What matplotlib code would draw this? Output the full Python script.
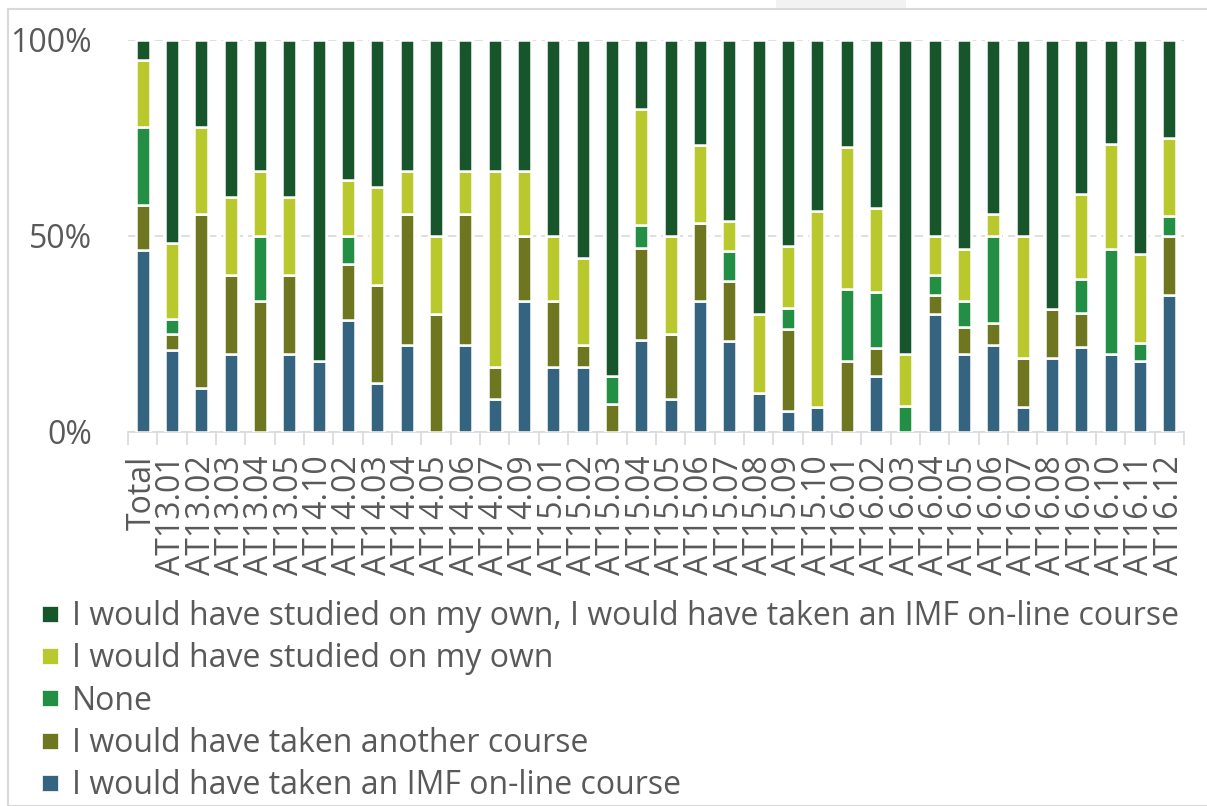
import matplotlib

matplotlib.use("Agg")
import matplotlib.pyplot as plt
import numpy as np
from matplotlib.lines import Line2D
from matplotlib.patches import Rectangle


CATEGORIES = [
    "Total", "AT13.01", "AT13.02", "AT13.03", "AT13.04", "AT13.05",
    "AT14.10", "AT14.02", "AT14.03", "AT14.04", "AT14.05", "AT14.06",
    "AT14.07", "AT14.09", "AT15.01", "AT15.02", "AT15.03", "AT15.04",
    "AT15.05", "AT15.06", "AT15.07", "AT15.08", "AT15.09", "AT15.10",
    "AT16.01", "AT16.02", "AT16.03", "AT16.04", "AT16.05", "AT16.06",
    "AT16.07", "AT16.08", "AT16.09", "AT16.10", "AT16.11", "AT16.12",
]

# shares in percent, bottom segment first
IMF_ONLINE = [
    46.5, 21.0, 11.1, 20.0, 0.0, 20.0, 18.2, 28.6, 12.5, 22.2, 0.0, 22.2,
    8.3, 33.3, 16.7, 16.7, 0.0, 23.5, 8.3, 33.3, 23.1, 10.0, 5.3, 6.3,
    0.0, 14.3, 0.0, 30.0, 20.0, 22.2, 6.3, 18.8, 21.7, 20.0, 18.2, 35.0,
]
ANOTHER_COURSE = [
    11.5, 3.9, 44.4, 20.0, 33.3, 20.0, 0.0, 14.3, 25.0, 33.3, 30.0, 33.3,
    8.3, 16.7, 16.7, 5.6, 7.1, 23.5, 16.7, 20.0, 15.4, 0.0, 21.1, 0.0,
    18.2, 7.1, 0.0, 5.0, 6.7, 5.6, 12.5, 12.5, 8.7, 0.0, 0.0, 15.0,
]
NONE = [
    19.7, 4.0, 0.0, 0.0, 16.7, 0.0, 0.0, 7.1, 0.0, 0.0, 0.0, 0.0,
    0.0, 0.0, 0.0, 0.0, 7.1, 5.9, 0.0, 0.0, 7.7, 0.0, 5.3, 0.0,
    18.2, 14.3, 6.7, 5.0, 6.7, 22.2, 0.0, 0.0, 8.7, 26.7, 4.5, 5.0,
]
OWN = [
    17.3, 19.2, 22.2, 20.0, 16.7, 20.0, 0.0, 14.3, 25.0, 11.1, 20.0, 11.1,
    50.0, 16.7, 16.7, 22.2, 0.0, 29.4, 25.0, 20.0, 7.7, 20.0, 15.8, 50.0,
    36.4, 21.4, 13.3, 10.0, 13.3, 5.6, 31.3, 0.0, 21.7, 26.7, 22.7, 20.0,
]
OWN_AND_IMF = [
    5.0, 51.9, 22.2, 40.0, 33.3, 40.0, 81.8, 35.7, 37.5, 33.3, 50.0, 33.3,
    33.3, 33.3, 50.0, 55.6, 85.7, 17.6, 50.0, 26.7, 46.2, 70.0, 52.6, 43.8,
    27.3, 42.9, 80.0, 50.0, 53.3, 44.4, 50.0, 68.8, 39.1, 26.7, 54.5, 25.0,
]

SERIES_NAMES = [
    "I would have taken an IMF on-line course",
    "I would have taken another course",
    "None",
    "I would have studied on my own",
    "I would have studied on my own, I would have taken an IMF on-line course",
]
SERIES_COLORS = ["#356480", "#6E771F", "#238F45", "#B9C82D", "#17552B"]

TEXT_COLOR = "#595959"
LINE_COLOR = "#D9D9D9"
FONT_SIZE = 23


def main():
    plt.rcParams["font.family"] = ["Open Sans", "DejaVu Sans"]

    fig = plt.figure(figsize=(12.07, 8.06), dpi=100)
    ax = fig.add_axes([128 / 1207, 1 - 432 / 806, 1056 / 1207, 392 / 806])

    series = [IMF_ONLINE, ANOTHER_COURSE, NONE, OWN, OWN_AND_IMF]
    x = np.arange(len(CATEGORIES))
    bottom = np.zeros(len(CATEGORIES))

    for values, color in zip(series, SERIES_COLORS):
        values = np.array(values)
        ax.bar(
            x, values, width=0.47, bottom=bottom, color=color,
            edgecolor="white", linewidth=1.8, zorder=3,
        )
        bottom += values

    ax.set_xlim(-0.5, len(CATEGORIES) - 0.5)
    ax.set_ylim(0, 100)

    ax.set_yticks([0, 50, 100])
    ax.set_yticklabels(["0%", "50%", "100%"])
    ax.tick_params(axis="y", length=0, pad=26, labelsize=FONT_SIZE, labelcolor=TEXT_COLOR)
    ax.yaxis.grid(True, color=LINE_COLOR, linestyle=(0, (5, 3)), linewidth=1.2, zorder=0)

    ax.set_xticks(x)
    ax.set_xticklabels(CATEGORIES, rotation=90)
    ax.tick_params(axis="x", length=0, pad=17, labelsize=FONT_SIZE, labelcolor=TEXT_COLOR)
    ax.set_xticks(np.arange(-0.5, len(CATEGORIES)), minor=True)
    ax.tick_params(axis="x", which="minor", length=9, width=1.2, color=LINE_COLOR)

    for side in ["left", "right", "top"]:
        ax.spines[side].set_visible(False)
    ax.spines["bottom"].set_color(LINE_COLOR)
    ax.spines["bottom"].set_linewidth(1.2)

    handles = [
        Line2D([], [], marker="s", linestyle="none", markersize=11.5,
               markerfacecolor=color, markeredgecolor="white", markeredgewidth=0.5)
        for color in SERIES_COLORS
    ]
    fig.legend(
        handles[::-1], SERIES_NAMES[::-1],
        loc="upper left", bbox_to_anchor=(37 / 1207, 1 - 600 / 806),
        frameon=False, fontsize=FONT_SIZE, labelcolor=TEXT_COLOR,
        handlelength=0.8, handletextpad=0.29, labelspacing=0.29,
        borderpad=0, borderaxespad=0,
    )

    # outer frame of the chart area and the tab at the top
    fig.patches.append(Rectangle(
        (8 / 1207, 0.5 / 806), 1.2, 1 - 9.5 / 806, transform=fig.transFigure,
        fill=False, edgecolor=LINE_COLOR, linewidth=1.5,
    ))
    fig.patches.append(Rectangle(
        (776 / 1207, 1 - 8 / 806), 130 / 1207, 8 / 806, transform=fig.transFigure,
        facecolor="#F2F2F2", edgecolor="none",
    ))

    fig.savefig("out.png", dpi=100)
    plt.close(fig)


if __name__ == "__main__":
    main()
